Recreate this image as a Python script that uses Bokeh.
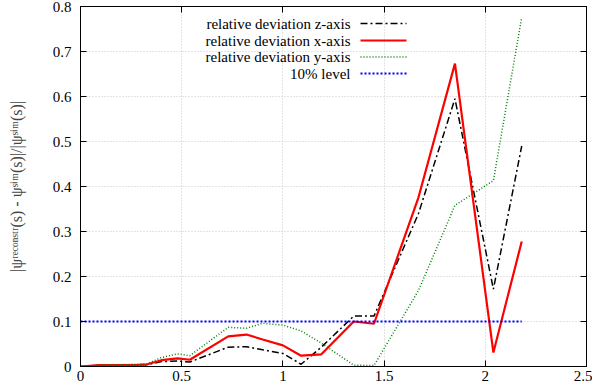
from bokeh.plotting import figure
from bokeh.models import Range1d, FixedTicker, LinearAxis, Label, Arrow
from bokeh.embed import file_html
from bokeh.resources import INLINE

# ---- data ----
s = [0.0, 0.09, 0.18, 0.27, 0.33, 0.40, 0.48, 0.54, 0.73, 0.82, 0.90, 1.00,
     1.09, 1.19, 1.35, 1.45, 1.67, 1.85, 2.04, 2.18]
dev_z = [0.0, 0.002, 0.002, 0.003, 0.004, 0.011, 0.012, 0.010, 0.043, 0.044,
         0.037, 0.029, 0.005, 0.043, 0.112, 0.112, 0.34, 0.595, 0.172, 0.49]
dev_x = [0.0, 0.003, 0.003, 0.003, 0.005, 0.014, 0.018, 0.015, 0.067, 0.071,
         0.060, 0.047, 0.024, 0.027, 0.100, 0.095, 0.376, 0.673, 0.031, 0.278]
dev_y = [0.0, 0.003, 0.004, 0.005, 0.006, 0.020, 0.028, 0.024, 0.087, 0.085,
         0.096, 0.092, 0.079, 0.052, 0.003, 0.002, 0.169, 0.358, 0.413, 0.776]
level_s = [0.0, 2.18]
level_v = [0.1, 0.1]

x_ticks = [0, 0.5, 1, 1.5, 2, 2.5]
x_tick_labels = ["0", "0.5", "1", "1.5", "2", "2.5"]
y_ticks = [0, 0.1, 0.2, 0.3, 0.4, 0.5, 0.6, 0.7, 0.8]
y_tick_labels = ["0", "0.1", "0.2", "0.3", "0.4", "0.5", "0.6", "0.7", "0.8"]

legend_labels = ["relative deviation z-axis", "relative deviation x-axis",
                 "relative deviation y-axis", "10% level"]

FONT = "'Liberation Serif', serif"

p = figure(frame_width=506, frame_height=360, output_backend="svg",
           toolbar_location=None,
           x_range=Range1d(0, 2.5), y_range=Range1d(0, 0.8),
           min_border_left=80, min_border_right=6, min_border_top=6,
           min_border_bottom=23)
p.background_fill_color = "white"
p.border_fill_color = "white"
p.outline_line_color = "black"
p.outline_line_width = 1

for ax in (p.xaxis[0], p.yaxis[0]):
    ax.major_tick_in = 6
    ax.major_tick_out = 0
    ax.minor_tick_in = 0
    ax.minor_tick_out = 0
    ax.axis_line_color = "black"
    ax.major_tick_line_color = "black"
    ax.major_label_text_font = FONT
    ax.major_label_text_font_size = "15px"
    ax.major_label_text_color = "black"

p.xaxis[0].ticker = FixedTicker(ticks=x_ticks)
p.xaxis[0].major_label_overrides = dict(zip(x_ticks, x_tick_labels))
p.xaxis[0].major_label_standoff = 4
p.yaxis[0].ticker = FixedTicker(ticks=y_ticks)
p.yaxis[0].major_label_overrides = dict(zip(y_ticks, y_tick_labels))
p.yaxis[0].major_label_standoff = 9

p.yaxis[0].axis_label = "|ψʳᵉᶜᵒⁿˢᵗʳ(s) - ψˢⁱᵐ(s)|/|ψˢⁱᵐ(s)|"
p.yaxis[0].axis_label_text_font = FONT
p.yaxis[0].axis_label_text_font_size = "16px"
p.yaxis[0].axis_label_text_font_style = "normal"
p.yaxis[0].axis_label_standoff = 25

# mirrored ticks
for loc, tick in (("right", y_ticks), ("above", x_ticks)):
    ax = LinearAxis(ticker=FixedTicker(ticks=tick))
    ax.major_label_overrides = {t: "" for t in tick}
    ax.major_label_text_font_size = "0px"
    ax.major_label_standoff = 0
    ax.major_tick_in = 6
    ax.major_tick_out = 0
    ax.minor_tick_in = 0
    ax.minor_tick_out = 0
    ax.axis_line_color = "black"
    p.add_layout(ax, loc)

p.xgrid.ticker = FixedTicker(ticks=x_ticks)
p.ygrid.ticker = FixedTicker(ticks=y_ticks)
for g in (p.xgrid[0], p.ygrid[0]):
    g.grid_line_color = "#c8c8c8"
    g.grid_line_dash = "1 2"
    g.grid_line_width = 1

styles = [
    dict(line_color="black", line_width=1.5, line_dash="7 3 2 3"),
    dict(line_color="#ff0000", line_width=2.2),
    dict(line_color="#008000", line_width=1.5, line_dash="1 2"),
    dict(line_color="#0000ff", line_width=2, line_dash="2 2"),
]

p.line(s, dev_z, **styles[0])
p.line(s, dev_x, **styles[1])
p.line(s, dev_y, **styles[2])
p.line(level_s, level_v, **styles[3])

# legend: text right-aligned, sample on the right (frame screen units)
row_y = [343, 326, 309.5, 293]
for lab, yy, st in zip(legend_labels, row_y, styles):
    p.add_layout(Label(x=270, y=yy, x_units="screen", y_units="screen",
                       text=lab, text_align="right", text_baseline="middle",
                       text_font=FONT, text_font_size="15px",
                       text_color="black"))
    p.add_layout(Arrow(end=None, x_start=280, y_start=yy, x_end=326, y_end=yy,
                       start_units="screen", end_units="screen", **st))

open("out.html", "w").write(file_html(p, INLINE))
